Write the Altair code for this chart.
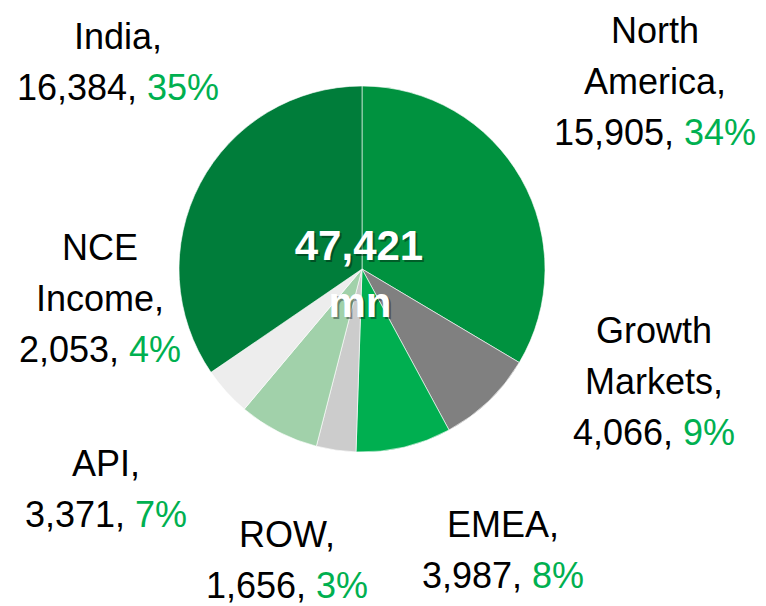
import altair as alt
import pandas as pd

# ---- data ----
regions = ["North America", "Growth Markets", "EMEA", "ROW", "API", "NCE Income", "India"]
values = [15905, 4066, 3987, 1656, 3371, 2053, 16384]
name_lines = [["North", "America,"], ["Growth", "Markets,"], ["EMEA,"], ["ROW,"], ["API,"],
              ["NCE", "Income,"], ["India,"]]
total_label = ["47,421", "mn"]
colors = ["#00923F", "#808080", "#00AF50", "#CCCCCC", "#A1D1AA", "#EDEDED", "#007D3A"]

# ---- layout (chart pixel coords, not data) ----
FONT = "Liberation Sans"
FS = 36
LINE = 51
CX, CY, R = 354, 261, 183
# label anchor: centre x and baseline of the LAST line
label_anchor = {
    "North America": (647, 137),
    "Growth Markets": (646, 437),
    "EMEA": (495, 580),
    "ROW": (279, 590),
    "API": (98, 519),
    "NCE Income": (92, 354),
    "India": (110, 92),
}

ARIAL = {str(d): 556 for d in range(10)}
ARIAL.update({",": 278, " ": 278, "%": 889})


def tw(s):
    return sum(ARIAL.get(c, 556) for c in s) / 1000 * FS


total = sum(values)
pie_df = pd.DataFrame({"region": regions, "value": values, "idx": range(len(regions))})

center_rows, right_rows, left_rows = [], [], []
for reg, v, lines in zip(regions, values, name_lines):
    cx, yb = label_anchor[reg]
    n = len(lines)
    for i, ln in enumerate(lines):
        center_rows.append({"t": ln, "x": cx, "y": yb - (n - i) * LINE})
    black = f"{v:,},"
    pct = f"{round(v / total * 100)}%"
    W = tw(black) + tw(" ") + tw(pct)
    split = cx - W / 2 + tw(black)
    right_rows.append({"t": black, "x": split, "y": yb})
    left_rows.append({"t": pct, "x": split + tw(" "), "y": yb})

pie = alt.Chart(pie_df).mark_arc(outerRadius=R, stroke="white", strokeWidth=0.6).encode(
    theta=alt.Theta("value:Q", stack=True),
    order=alt.Order("idx:Q"),
    color=alt.Color("region:N", scale=alt.Scale(domain=regions, range=colors), legend=None),
    x=alt.value(CX),
    y=alt.value(CY),
)


def text_layer(rows, align, color):
    return alt.Chart(pd.DataFrame(rows)).mark_text(
        align=align, baseline="alphabetic", font=FONT, fontSize=FS, color=color
    ).encode(
        x=alt.X("x:Q", scale=None),
        y=alt.Y("y:Q", scale=None),
        text="t:N",
    )


names = text_layer(center_rows, "center", "#000000")
nums = text_layer(right_rows, "right", "#000000")
pcts = text_layer(left_rows, "left", "#00B050")

ctr_df = pd.DataFrame({"t": total_label, "x": [351, 352], "y": [252, 309]})
shadow = alt.Chart(ctr_df).mark_text(
    align="center", baseline="alphabetic", font=FONT, fontSize=42, fontWeight="bold",
    color="#000000", opacity=0.35, dx=2, dy=2
).encode(x=alt.X("x:Q", scale=None), y=alt.Y("y:Q", scale=None), text="t:N")
ctr = alt.Chart(ctr_df).mark_text(
    align="center", baseline="alphabetic", font=FONT, fontSize=42, fontWeight="bold",
    color="#FFFFFF"
).encode(x=alt.X("x:Q", scale=None), y=alt.Y("y:Q", scale=None), text="t:N")

chart = alt.layer(pie, names, nums, pcts, shadow, ctr).properties(
    width=750, height=598, padding=0, autosize=alt.AutoSizeParams(type="none")
).configure_view(stroke=None)

chart.save("out.html", embed_options={"renderer": "svg", "actions": False})
